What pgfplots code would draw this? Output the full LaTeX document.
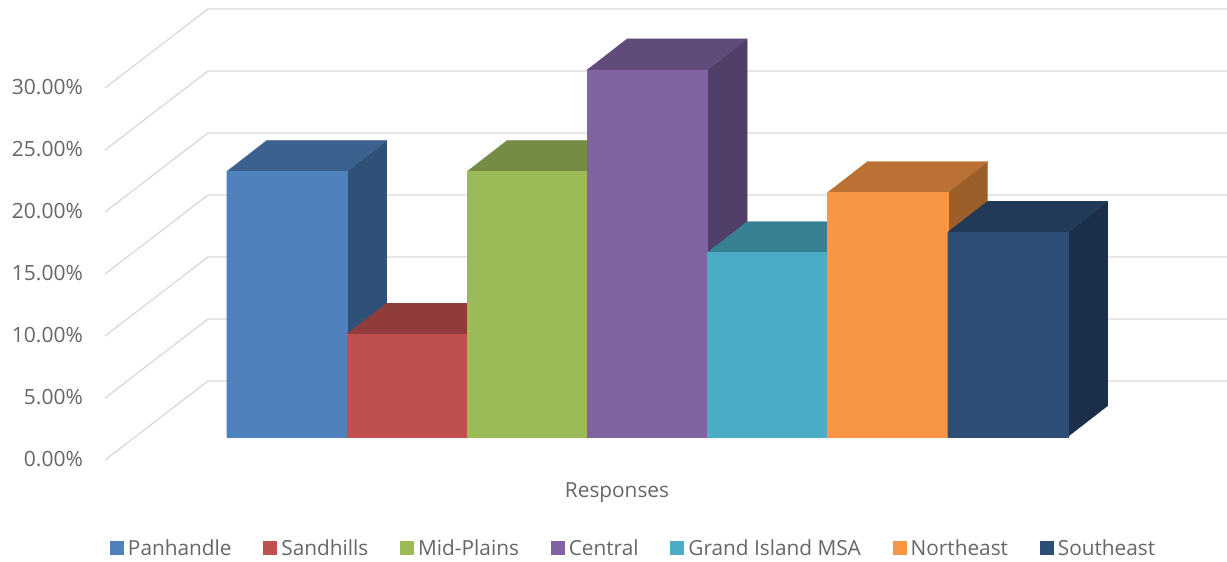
\documentclass[border=0pt]{standalone}
\usepackage{fontspec}
\setmainfont{Open Sans}
\usepackage{pgfplots}
\pgfplotsset{compat=1.18}
\definecolor{axtext}{HTML}{666666}
\definecolor{gridc}{HTML}{D9D9D9}
\definecolor{fA}{HTML}{4F81BD}\definecolor{tA}{HTML}{3B618E}\definecolor{sA}{HTML}{2F5178}
\definecolor{fB}{HTML}{C0504D}\definecolor{tB}{HTML}{903C3A}\definecolor{sB}{HTML}{733030}
\definecolor{fC}{HTML}{9BBB59}\definecolor{tC}{HTML}{748C43}\definecolor{sC}{HTML}{5D7035}
\definecolor{fD}{HTML}{8064A2}\definecolor{tD}{HTML}{604B7A}\definecolor{sD}{HTML}{523F69}
\definecolor{fE}{HTML}{4BACC6}\definecolor{tE}{HTML}{388195}\definecolor{sE}{HTML}{2D6777}
\definecolor{fF}{HTML}{F99646}\definecolor{tF}{HTML}{BA7133}\definecolor{sF}{HTML}{9C5F2A}
\definecolor{fG}{HTML}{2C4D75}\definecolor{tG}{HTML}{213A58}\definecolor{sG}{HTML}{1C2F4A}
% Oblique projection: the front of the columns, their back and the wall
% are shifted upwards by these amounts, in percentage points.
\newcommand{\frontup}{1.87}
\newcommand{\depthup}{2.5}
\newcommand{\wallup}{6.371}
% One slanted gridline, floor edge to wall, then along the wall
\newcommand{\gridline}[1]{%
  \pgfmathsetmacro{\wy}{#1+\wallup}%
  \addplot[gridc,line width=1.3pt,forget plot] coordinates {(105,#1) (208,\wy) (1227,\wy)};%
}
% One column: position index, value, face colours (front, top, side)
\newcommand{\column}[5]{%
  \pgfmathsetmacro{\xl}{226.7+120.15*#1}%
  \pgfmathsetmacro{\xr}{\xl+120.15}%
  \pgfmathsetmacro{\xlb}{\xl+40}%
  \pgfmathsetmacro{\xrb}{\xr+40}%
  \pgfmathsetmacro{\yb}{\frontup}%
  \pgfmathsetmacro{\yt}{#2+\frontup}%
  \pgfmathsetmacro{\ybb}{\frontup+\depthup}%
  \pgfmathsetmacro{\ytb}{#2+\frontup+\depthup}%
  \addplot[fill=#5,draw=#5,line width=0.1pt,forget plot] coordinates {(\xr,\yb) (\xrb,\ybb) (\xrb,\ytb) (\xr,\yt) (\xr,\yb)};%
  \addplot[fill=#4,draw=#4,line width=0.1pt,forget plot] coordinates {(\xl,\yt) (\xr,\yt) (\xrb,\ytb) (\xlb,\ytb) (\xl,\yt)};%
  \addplot[fill=#3,draw=#3,line width=0.1pt,forget plot] coordinates {(\xl,\yb) (\xr,\yb) (\xr,\yt) (\xl,\yt) (\xl,\yb)};%
}
\begin{document}
\begin{tikzpicture}
\begin{axis}[
  scale only axis,
  width=1227pt,height=561pt,
  xmin=0,xmax=1227,
  ymin=-8.145,ymax=37.097,
  axis line style={draw=none},
  tick style={draw=none},
  xtick=\empty,
  ytick={0,5,10,15,20,25,30},
  yticklabels={0.00\%,5.00\%,10.00\%,15.00\%,20.00\%,25.00\%,30.00\%},
  yticklabel style={font=\fontsize{21}{25}\selectfont,text=axtext,anchor=east,xshift=83pt,yshift=1pt,inner sep=0pt},
  legend columns=-1,
  legend cell align=left,
  legend style={draw=none,fill=none,inner sep=0pt,outer sep=0pt,
    at={(110/1227,13/561)},anchor=west,
    font=\fontsize{20.8}{25}\selectfont,text=axtext,
    nodes={inner xsep=4pt,inner ysep=0pt},
    /tikz/every even column/.append style={column sep=27.8pt}},
  legend image code/.code={\fill[#1,draw=none] (0pt,-7pt) rectangle (14pt,7pt);},
]
  \gridline{0}\gridline{5}\gridline{10}\gridline{15}\gridline{20}\gridline{25}\gridline{30}

  \column{0}{21.4}{fA}{tA}{sA}
  \column{1}{8.28}{fB}{tB}{sB}
  \column{2}{21.4}{fC}{tC}{sC}
  \column{3}{29.6}{fD}{tD}{sD}
  \column{4}{14.86}{fE}{tE}{sE}
  \column{5}{19.7}{fF}{tF}{sF}
  \column{6}{16.5}{fG}{tG}{sG}

  \addlegendimage{fill=fA}\addlegendentry{Panhandle}
  \addlegendimage{fill=fB}\addlegendentry{Sandhills}
  \addlegendimage{fill=fC}\addlegendentry{Mid-Plains}
  \addlegendimage{fill=fD}\addlegendentry{Central}
  \addlegendimage{fill=fE}\addlegendentry{Grand Island MSA}
  \addlegendimage{fill=fF}\addlegendentry{Northeast}
  \addlegendimage{fill=fG}\addlegendentry{Southeast}

  \node[font=\fontsize{20.8}{25}\selectfont,text=axtext,inner sep=0pt] at (axis cs:617,-2.66) {Responses};
\end{axis}
\end{tikzpicture}
\end{document}
